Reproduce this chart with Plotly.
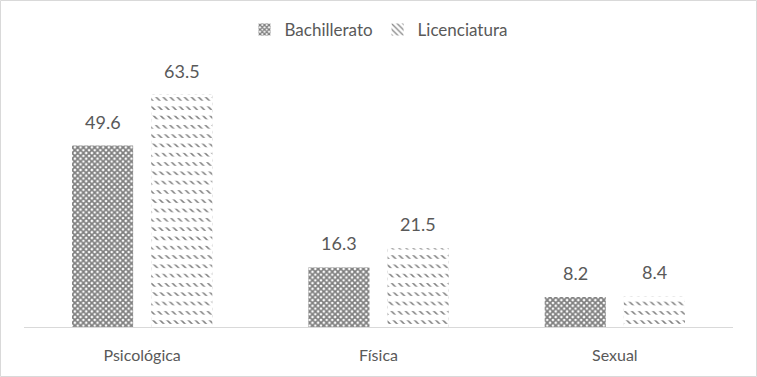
import plotly.graph_objects as go

categories = ["Psicológica", "Física", "Sexual"]
bachillerato = [49.6, 16.3, 8.2]
licenciatura = [63.5, 21.5, 8.4]
series_names = ["Bachillerato", "Licenciatura"]

W, H = 757, 377
L, R, T, B = 24, 24, 71, 50
font_fam = "Lato, 'Open Sans', sans-serif"
gray = "#595959"

fig = go.Figure()
fig.add_trace(go.Bar(
    x=categories, y=bachillerato, name=series_names[0], offsetgroup="a",
    marker=dict(color="white", line=dict(width=0),
                pattern=dict(shape="x", fgcolor="black", bgcolor="white", size=4, solidity=0.68)),
))
fig.add_trace(go.Bar(
    x=categories, y=licenciatura, name=series_names[1], offsetgroup="b",
    marker=dict(color="white", line=dict(width=0),
                pattern=dict(shape="\\", fgcolor="black", bgcolor="white", size=5, solidity=0.3)),
))
# white horizontal gaps to turn the diagonal hatch into rows
fig.add_trace(go.Bar(
    x=categories, y=licenciatura, name=series_names[1], offsetgroup="b",
    showlegend=False, hoverinfo="skip",
    marker=dict(color="rgba(255,255,255,0)", line=dict(width=0),
                pattern=dict(shape="-", fillmode="overlay", fgcolor="white", fgopacity=1,
                             size=9.3, solidity=0.62)),
))

slot = 79
for vals, sh in ((bachillerato, -slot / 2), (licenciatura, slot / 2)):
    for c, v in zip(categories, vals):
        fig.add_annotation(x=c, y=v, xref="x", yref="y", text=f"{v:.1f}", showarrow=False,
                           xshift=sh, yanchor="bottom", yshift=11,
                           font=dict(family=font_fam, size=18, color=gray))

pw, ph = W - L - R, H - T - B
fig.add_shape(type="rect", xref="paper", yref="paper",
              x0=-(L - 0.5) / pw, x1=1 + (R - 0.5) / pw,
              y0=-(B - 0.5) / ph, y1=1 + (T - 0.5) / ph,
              line=dict(color="#d9d9d9", width=1), fillcolor="rgba(0,0,0,0)")

fig.update_layout(
    width=W, height=H, margin=dict(l=L, r=R, t=T, b=B),
    paper_bgcolor="white", plot_bgcolor="white",
    barmode="group", bargap=0.33, bargroupgap=0.228,
    font=dict(family=font_fam, size=15, color=gray),
    legend=dict(orientation="h", x=0.5, xanchor="center", y=1 + (71 - 30) / ph, yanchor="middle",
                font=dict(family=font_fam, size=17, color=gray), itemwidth=30),
    showlegend=True,
)
fig.update_xaxes(showline=True, linecolor="#d9d9d9", linewidth=1, ticks="", showgrid=False,
                 ticklabelstandoff=14, tickfont=dict(family=font_fam, size=16, color=gray))
fig.update_yaxes(range=[0, 70], visible=False, showgrid=False, zeroline=False)

fig.write_html("out.html", config={"displayModeBar": False},
               post_script="document.body.style.margin='0';")
